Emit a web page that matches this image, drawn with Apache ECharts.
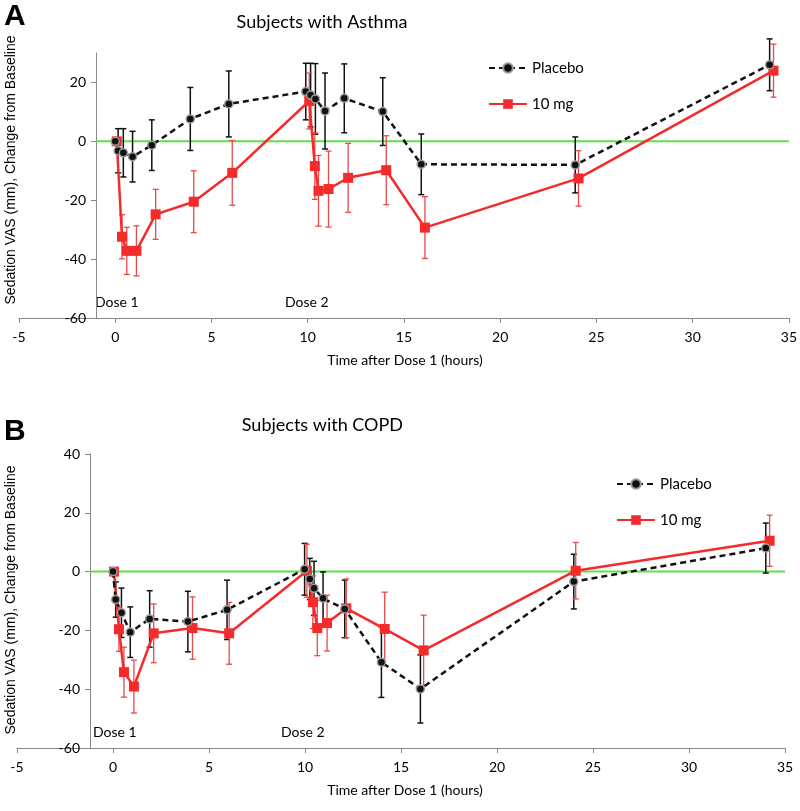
<!DOCTYPE html>
<html><head><meta charset="utf-8">
<script src="https://cdn.jsdelivr.net/npm/echarts@6/dist/echarts.min.js"></script>
<style>html,body{margin:0;padding:0;background:#fff}#c{width:800px;height:811px}</style>
</head><body><div id="c"></div>
<script>
// ---------- data ----------
const panelTitles = ['Subjects with Asthma', 'Subjects with COPD'];
const panelLetters = ['A', 'B'];
const seriesNames = ['Placebo', '10 mg'];
const yAxisTitle = 'Sedation VAS (mm), Change from Baseline';
const xAxisTitle = 'Time after Dose 1 (hours)';
const doseLabels = ['Dose 1', 'Dose 2'];
const yTicksA = [-60, -40, -20, 0, 20];
const yTicksB = [-60, -40, -20, 0, 20, 40];

// Panel A (Asthma)
const timeA_placebo = [0, 0.15, 0.42, 0.9, 1.9, 3.9, 5.9, 9.9, 10.15, 10.4, 10.9, 11.9, 13.9, 15.9, 23.9, 34];
const placeboA      = [0, -3.2, -3.9, -5.2, -1.3, 7.6, 12.7, 16.9, 15.7, 14.4, 10.3, 14.6, 10.1, -7.8, -8.0, 26.0];
const placeboA_err  = [0, 7.5, 8.2, 8.6, 8.6, 10.7, 11.2, 9.6, 10.8, 12.0, 12.9, 11.7, 11.5, 10.3, 9.5, 8.8];
const timeA_10mg    = [0.08, 0.35, 0.6, 1.1, 2.1, 4.08, 6.08, 10.08, 10.37, 10.56, 11.08, 12.1, 14.08, 16.09, 24.07, 34.2];
const dose10A       = [0, -32.4, -37.2, -37.2, -24.8, -20.5, -10.7, 13.7, -8.4, -16.8, -16.2, -12.4, -9.8, -29.3, -12.6, 24.0];
const dose10A_err   = [0, 7.5, 8.0, 8.5, 8.5, 10.5, 11.0, 9.5, 11.3, 12.0, 12.9, 11.7, 11.7, 10.5, 9.4, 9.0];

// Panel B (COPD)
const timeB_placebo = [0, 0.14, 0.44, 0.9, 1.91, 3.9, 5.94, 9.98, 10.25, 10.47, 10.94, 12.07, 13.98, 16.01, 24, 34];
const placeboB      = [0, -9.5, -14.0, -20.6, -16.1, -17.0, -13.0, 0.8, -2.5, -5.7, -9.1, -12.7, -30.8, -39.9, -3.4, 8.0];
const placeboB_err  = [0, 6.0, 8.4, 8.6, 9.6, 10.3, 10.1, 8.8, 7.0, 9.2, 9.0, 9.8, 12.0, 11.6, 9.3, 8.5];
const timeB_10mg    = [0.05, 0.31, 0.57, 1.09, 2.12, 4.14, 6.05, 10.1, 10.41, 10.64, 11.15, 12.15, 14.15, 16.18, 24.1, 34.2];
const dose10B       = [0, -19.6, -34.2, -39.1, -21.0, -19.2, -21.0, 0.3, -10.4, -19.2, -17.5, -12.5, -19.5, -26.8, 0.3, 10.5];
const dose10B_err   = [0, 7.5, 8.5, 9.0, 10.0, 10.6, 10.5, 9.0, 9.0, 9.4, 9.5, 10.0, 12.5, 12.0, 9.6, 8.7];

// zero reference line (from y-axis crossing to end of axis)
const zeroLineA = [[-1, 0], [35, 0]];
const zeroLineB = [[-1.2, 0], [35, 0]];

// ---------- chart ----------
const BLACK = '#111111', RED = '#f52a2a', RED_ERR = '#e84a4a', GREEN = '#5ee04a', AXIS = '#878787';
const FONT = 'Lato, "Open Sans", sans-serif';

function pairs(t, v) { return t.map((x, i) => [x, v[i]]); }
function errData(t, v, e) { return t.map((x, i) => [x, v[i] - e[i], v[i] + e[i], e[i]]).filter(d => d[3] > 0); }

function errSeries(name, gi, t, v, e, color, lw) {
  return {
    type: 'custom', name: name, xAxisIndex: gi, yAxisIndex: gi, silent: true, z: 3,
    data: errData(t, v, e),
    renderItem: function (params, api) {
      const lo = api.coord([api.value(0), api.value(1)]);
      const hi = api.coord([api.value(0), api.value(2)]);
      const c = 3;
      const st = { stroke: color, lineWidth: lw };
      return { type: 'group', children: [
        { type: 'line', shape: { x1: lo[0], y1: lo[1], x2: hi[0], y2: hi[1] }, style: st },
        { type: 'line', shape: { x1: lo[0] - c, y1: lo[1], x2: lo[0] + c, y2: lo[1] }, style: st },
        { type: 'line', shape: { x1: hi[0] - c, y1: hi[1], x2: hi[0] + c, y2: hi[1] }, style: st }
      ]};
    }
  };
}

function placeboSeries(gi, t, v) {
  return { type: 'line', name: seriesNames[0], xAxisIndex: gi, yAxisIndex: gi, data: pairs(t, v),
    symbol: 'circle', symbolSize: 8, z: 5,
    lineStyle: { color: BLACK, width: 2.5, type: [6, 4] },
    itemStyle: { color: BLACK, borderColor: '#9a9a9a', borderWidth: 1.5 } };
}
function doseSeries(gi, t, v) {
  return { type: 'line', name: seriesNames[1], xAxisIndex: gi, yAxisIndex: gi, data: pairs(t, v),
    symbol: 'rect', symbolSize: 10, z: 4,
    lineStyle: { color: RED, width: 2.5 },
    itemStyle: { color: RED, borderWidth: 0 } };
}
function zeroSeries(gi, d) {
  return { type: 'line', name: 'zero', xAxisIndex: gi, yAxisIndex: gi, data: d, symbol: 'none', silent: true, z: 1,
    lineStyle: { color: GREEN, width: 2 } };
}

function xAxisShown(gi) {
  return { type: 'value', gridIndex: gi, min: -5, max: 35, interval: 5,
    axisLine: { show: true, onZero: false, lineStyle: { color: AXIS, width: 1 } },
    axisTick: { show: true, inside: false, length: 5, lineStyle: { color: AXIS } },
    axisLabel: { color: '#000', fontSize: 14, fontFamily: FONT, margin: 12 },
    splitLine: { show: false } };
}
function xAxisHidden(gi) { return { type: 'value', gridIndex: gi, min: -5, max: 35, show: false }; }
function yAxisHidden(gi, min, max) { return { type: 'value', gridIndex: gi, min: min, max: max, show: false }; }
function yAxisShown(gi, min, max, ticks) {
  return { type: 'value', gridIndex: gi, min: min, max: max, interval: 20,
    axisLine: { show: true, onZero: false, lineStyle: { color: AXIS, width: 1 } },
    axisTick: { show: true, inside: false, length: 5, lineStyle: { color: AXIS }, customValues: ticks },
    axisLabel: { color: '#000', fontSize: 14, fontFamily: FONT, margin: 10, customValues: ticks },
    splitLine: { show: false } };
}

function legendAt(left, top) {
  return { orient: 'vertical', left: left, top: top, data: seriesNames, itemWidth: 38, itemHeight: 12,
    itemGap: 20, selectedMode: false,
    textStyle: { fontSize: 15, fontFamily: FONT, color: '#000', lineHeight: 16 } };
}

function txt(x, y, s, opts) {
  return Object.assign({ type: 'text', x: x, y: y, silent: true,
    style: Object.assign({ text: s, fill: '#000', font: '14px ' + FONT, textAlign: 'left', textVerticalAlign: 'middle' }, opts || {}) });
}

const option = {
  backgroundColor: '#fff',
  animation: false,
  grid: [
    { left: 19, right: 9, top: 53, height: 265 },
    { left: 96, right: 9, top: 53, height: 265 },
    { left: 17, right: 15, top: 454, height: 294 },
    { left: 90, right: 15, top: 454, height: 294 }
  ],
  xAxis: [xAxisShown(0), xAxisHidden(1), xAxisShown(2), xAxisHidden(3)],
  yAxis: [yAxisHidden(0, -60, 30), yAxisShown(1, -60, 30, yTicksA), yAxisHidden(2, -60, 40), yAxisShown(3, -60, 40, yTicksB)],
  legend: [legendAt(483, 55), legendAt(611, 471)],
  series: [
    zeroSeries(0, zeroLineA),
    errSeries('Placebo err A', 0, timeA_placebo, placeboA, placeboA_err, BLACK, 1.5),
    errSeries('10 mg err A', 0, timeA_10mg, dose10A, dose10A_err, RED_ERR, 1.3),
    doseSeries(0, timeA_10mg, dose10A),
    placeboSeries(0, timeA_placebo, placeboA),
    zeroSeries(2, zeroLineB),
    errSeries('Placebo err B', 2, timeB_placebo, placeboB, placeboB_err, BLACK, 1.5),
    errSeries('10 mg err B', 2, timeB_10mg, dose10B, dose10B_err, RED_ERR, 1.3),
    doseSeries(2, timeB_10mg, dose10B),
    placeboSeries(2, timeB_placebo, placeboB)
  ],
  graphic: [
    txt(4, 17, panelLetters[0], { font: 'bold 30px "Liberation Sans", Arial, sans-serif' }),
    txt(4, 432, panelLetters[1], { font: 'bold 30px "Liberation Sans", Arial, sans-serif' }),
    txt(322, 22, panelTitles[0], { font: '18px ' + FONT, textAlign: 'center' }),
    txt(403, 425, panelTitles[1], { font: '18px ' + FONT, textAlign: 'right' }),
    { type: 'text', x: 11, y: 170, rotation: Math.PI / 2, silent: true,
      style: { text: yAxisTitle, fill: '#000', font: '14px "Liberation Sans", Arial, sans-serif', textAlign: 'center', textVerticalAlign: 'middle' } },
    { type: 'text', x: 11, y: 600, rotation: Math.PI / 2, silent: true,
      style: { text: yAxisTitle, fill: '#000', font: '14px "Liberation Sans", Arial, sans-serif', textAlign: 'center', textVerticalAlign: 'middle' } },
    txt(405, 360, xAxisTitle, { textAlign: 'center' }),
    txt(405, 790, xAxisTitle, { textAlign: 'center' }),
    txt(95, 302, doseLabels[0]),
    txt(285, 302, doseLabels[1]),
    txt(93, 732, doseLabels[0]),
    txt(281, 732, doseLabels[1])
  ]
};
const chart = echarts.init(document.getElementById('c'));
chart.setOption(option);
</script></body></html>
